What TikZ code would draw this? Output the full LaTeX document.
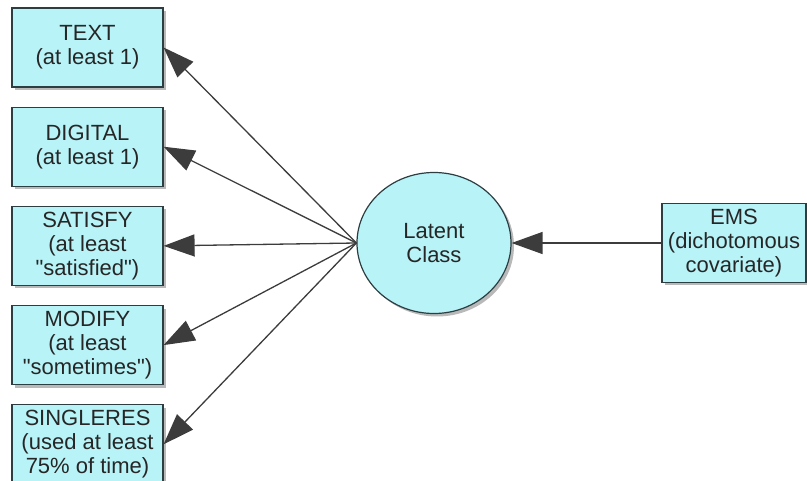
\documentclass[tikz,border=0pt]{standalone}
\usepackage{fontspec}
\setmainfont{Liberation Sans}[Ligatures=TeXOff]
\usepackage{tikz}
\usepackage{xcolor}
\usetikzlibrary{arrows.meta}
\usetikzlibrary{positioning}
\usetikzlibrary{shapes.geometric}
\usetikzlibrary{shadows}

\definecolor{boxfill}{RGB}{184,243,247}
\definecolor{boxline}{RGB}{45,62,66}
\definecolor{arrowgray}{RGB}{60,60,60}

\begin{document}
\begin{tikzpicture}[x=1pt, y=-1pt,
		varbox/.style={draw=boxline, fill=boxfill, line width={1.2pt}, minimum width={151pt}, minimum height={79pt},
			inner sep={1pt}, align=center, font={\fontsize{22}{24}\selectfont}, text=black!85,
			drop shadow={shadow xshift=3pt, shadow yshift=-3pt, fill=black!55}},
		latentnode/.style={ellipse, draw=boxline, fill=boxfill, line width={1.2pt}, minimum width={154pt},
			minimum height={141pt}, align=center, font={\fontsize{22}{24}\selectfont}, text=black!85,
			drop shadow={shadow xshift=3pt, shadow yshift=-3pt, fill=black!55}},
		linkarrow/.style={draw=arrowgray, line width={1.3pt}, -{Triangle[length=31pt, width=22pt]}}]
	\useasboundingbox (0,0) rectangle (807,481);
	
	\node[varbox] (text) at (87.5, 47.5) {TEXT\\(at least 1)};
	\node[varbox, below=19pt of text] (digital) {DIGITAL\\(at least 1)};
	\node[varbox, below=19pt of digital] (satisfy) {SATISFY\\(at least\\"satisfied")};
	\node[varbox, below=19pt of satisfy] (modify) {MODIFY\\(at least\\"sometimes")};
	\node[varbox, below=19pt of modify] (singleres) {SINGLERES\\(used at least\\75\% of time)};
	
	\node[latentnode] (latent) at (434, 243) {Latent\\Class};
	\node[varbox, minimum width={144pt}] (ems) at (734, 243) {EMS\\(dichotomous\\covariate)};
	
	\foreach \target in {text, digital, satisfy, modify, singleres}
		\draw[linkarrow] (latent.west) to (\target.east);
	\draw[linkarrow] (ems.west) to (latent.east);
\end{tikzpicture}
\end{document}
